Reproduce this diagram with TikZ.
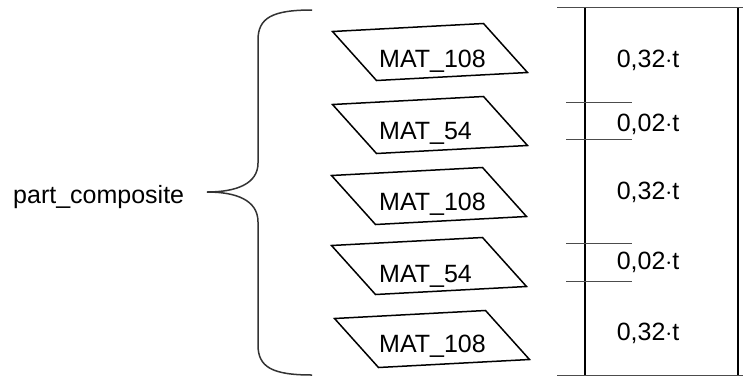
\documentclass[tikz,border=0pt]{standalone}
\usepackage{fontspec}
\setmainfont{Liberation Sans}
\usepackage{tikz}
\usetikzlibrary{positioning}

\begin{document}
\begin{tikzpicture}[x=1pt,y=-1pt,
    every node/.style={inner sep=0pt,font=\fontsize{25}{30}\selectfont},
    layer/.style={draw=black,line width=1.5pt,line join=miter},
    bar/.style={draw=black,line width=2.2pt},
    rule/.style={draw=black!70,line width=1pt},
    brace/.style={draw=black!80,line width=1.5pt}]
  \useasboundingbox (0,0) rectangle (743,378);
  % the label and its brace
  \node[anchor=base west] (pc) at (13,203) {part\_composite};
  \coordinate (tip) at (207,192);
  \draw[brace] (312,10) .. controls (272,10) and (258,18) .. (258,40)
    -- (258,163) .. controls (258,184) and (236,192) .. (tip)
    .. controls (236,192) and (258,200) .. (258,222)
    -- (258,345) .. controls (258,367) and (272,375) .. (312,375);
  % the layers
  \foreach \cx/\cy/\ty/\lab [count=\i] in
      {430/52/67/MAT\_108, 430/125/139/MAT\_54, 429/196/210.5/MAT\_108,
       429/266/282.5/MAT\_54, 432/339/352.5/MAT\_108}{
    \coordinate (c\i) at (\cx,\cy);
    \draw[layer,shift={(c\i)}] (-97.5,-20.5) -- ++(151,-8) -- ++(44,49)
      -- ++(-151,8) -- cycle;
    \node[anchor=base west] (m\i) at (379,\ty) {\lab};
  }
  % the thickness column
  \draw[bar] (585,7) -- (585,375);
  \draw[bar] (738,7) -- (738,375);
  \draw[rule] (557,7) -- (743,7);
  \draw[rule] (557,375) -- (743,375);
  \foreach \ty in {102,139,243,281}
    \draw[rule] (566,\ty) -- (632,\ty);
  \foreach \ty/\lab [count=\i] in
      {67/0{,}32$\cdot$t, 131.5/0{,}02$\cdot$t, 199/0{,}32$\cdot$t,
       269/0{,}02$\cdot$t, 340/0{,}32$\cdot$t}
    \node[anchor=base] (t\i) at (648,\ty) {\lab};
\end{tikzpicture}
\end{document}
